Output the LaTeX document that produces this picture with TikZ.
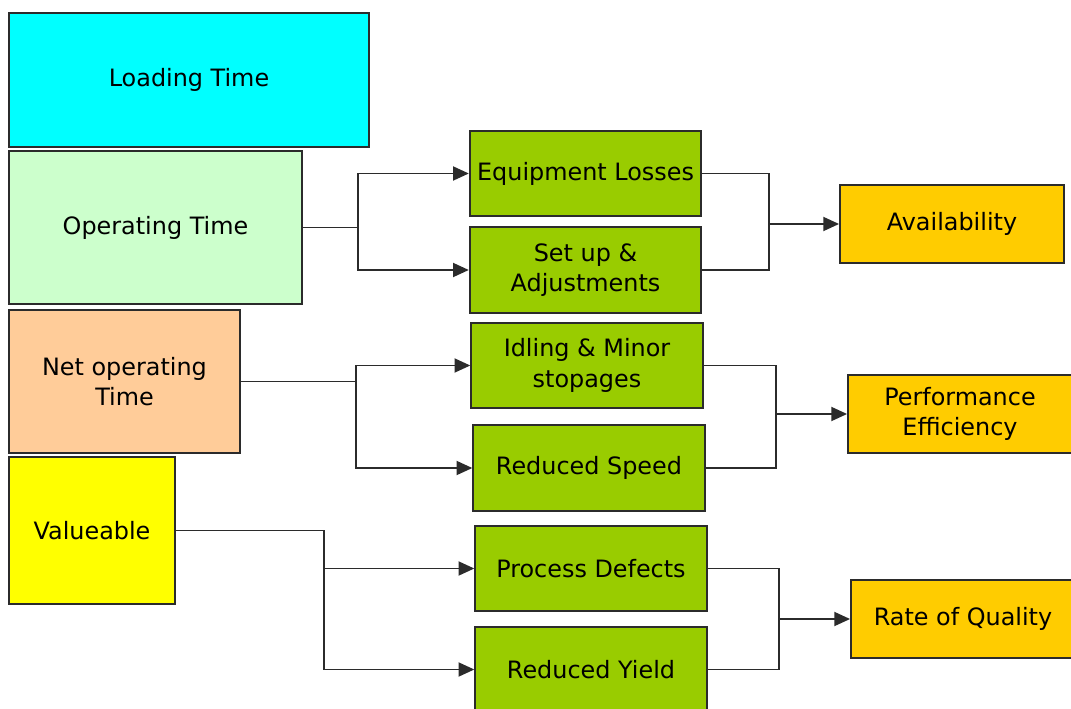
\documentclass[tikz,border=0pt]{standalone}
\usepackage{fontspec}
\setmainfont{DejaVu Sans}
\usetikzlibrary{arrows.meta}

\definecolor{loadcyan}{HTML}{00FFFF}
\definecolor{opgreen}{HTML}{CCFFCC}
\definecolor{netpeach}{HTML}{FFCC99}
\definecolor{valyellow}{HTML}{FFFF00}
\definecolor{lossgreen}{HTML}{99CC00}
\definecolor{rateorange}{HTML}{FFCC00}
\definecolor{edgegray}{HTML}{2B2B2B}

\tikzset{
	box/.style={draw=edgegray, line width=1.1pt, inner sep=0pt, align=center,
		font=\fontsize{13.6}{17.5}\selectfont},
	lossbox/.style={box, fill=lossgreen, minimum width=4.63cm, minimum height=1.71cm},
	ratebox/.style={box, fill=rateorange, minimum width=4.48cm, minimum height=1.56cm},
	conn/.style={draw=edgegray, line width=1pt},
	arr/.style={conn, -{Triangle[length=9pt,width=8pt]}}
}

\begin{document}
\begin{tikzpicture}[x=0.02cm, y=-0.02cm]
			%%%%% START %%%%%
			\useasboundingbox[fill=white] (0,0) rectangle (1071,709);
			\clip (0,0) rectangle (1071,709);
			
			% time blocks on the left
			\node[box, fill=loadcyan, minimum width=7.2cm, minimum height=2.68cm] (load) at (189,80) {Loading Time};
			\node[box, fill=opgreen, minimum width=5.86cm, minimum height=3.06cm] (oper) at (155.5,227.5) {Operating Time};
			\node[box, fill=netpeach, minimum width=4.62cm, minimum height=2.86cm] (net) at (124.5,381.5) {Net operating\\Time};
			\node[box, fill=valyellow, minimum width=3.32cm, minimum height=2.94cm] (val) at (92,530.5) {Valueable};
			
			% losses
			\node[lossbox] (equip) at (585.5,173.5) {Equipment Losses};
			\node[lossbox] (setup) at (585.5,270) {Set up \&\\Adjustments};
			\node[lossbox] (idle) at (587,365.5) {Idling \& Minor\\stopages};
			\node[lossbox] (speed) at (589,468) {Reduced Speed};
			\node[lossbox] (defect) at (591,568.5) {Process Defects};
			\node[lossbox] (yield) at (591,669.5) {Reduced Yield};
			
			% rates
			\node[ratebox] (avail) at (952,224) {Availability};
			\node[ratebox] (perf) at (960,414) {Performance\\Efficiency};
			\node[ratebox] (quality) at (963,619) {Rate of Quality};
			
			% branch and join points
			\coordinate (j1) at (358,227.5);
			\coordinate (j2) at (356,381.5);
			\coordinate (j3) at (324,530.5);
			\coordinate (k1) at (769,224);
			\coordinate (k2) at (776,414);
			\coordinate (k3) at (779,619);
			
			\draw[arr] (oper.east) -- (j1) |- (equip.west);
			\draw[arr] (j1) |- (setup.west);
			\draw[conn] (equip.east) -| (k1) |- (setup.east);
			\draw[arr] (k1) -- (avail.west);
			
			\draw[arr] (net.east) -- (j2) |- (idle.west);
			\draw[arr] (j2) |- (speed.west);
			\draw[conn] (idle.east) -| (k2) |- (speed.east);
			\draw[arr] (k2) -- (perf.west);
			
			\draw[arr] (val.east) -- (j3) |- (yield.west);
			\draw[arr] (j3 |- defect.west) -- (defect.west);
			\draw[conn] (defect.east) -| (k3) |- (yield.east);
			\draw[arr] (k3) -- (quality.west);
			
			%%%%% END %%%%%
\end{tikzpicture}
\end{document}
